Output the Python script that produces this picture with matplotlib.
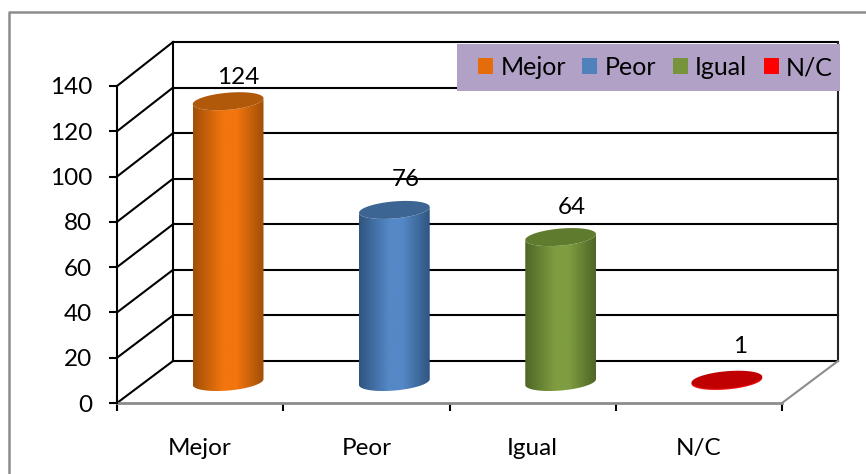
import numpy as np
import matplotlib
matplotlib.use("Agg")
import matplotlib.pyplot as plt
from matplotlib.patches import Polygon, Patch, Rectangle
from matplotlib.lines import Line2D
from matplotlib.colors import LinearSegmentedColormap

categories = ["Mejor", "Peor", "Igual", "N/C"]
values = [124, 76, 64, 1]
y_ticks = [0, 20, 40, 60, 80, 100, 120, 140]
center_colors = ["#F2750E", "#5488C6", "#7F9D40", "#F01010"]
edge_colors = ["#A04F08", "#2F5580", "#4F6627", "#A00000"]
top_colors = ["#B0590A", "#3D6594", "#5F7C2E", "#C00000"]
legend_colors = ["#E46C0A", "#4F81BD", "#77933C", "#FF0000"]
label_offsets_px = [(38, -45), (39, -51), (39, -51), (41, -54)]

W, H = 866, 474
L, R, B, T = 117, 782, 403, 86
DX, DY = 56, 42
BACK_SCALE = 319 / 317
plt.rcParams["font.family"] = ["Lato", "DejaVu Sans"]
FS = 17.5

fig = plt.figure(figsize=(W / 100, H / 100), dpi=100)
fig.patch.set_facecolor("white")
# outer frame: only its left and top edges are visible
fig.add_artist(Line2D([8.5 / W, 8.5 / W, 1], [0, 1 - 12 / H, 1 - 12 / H],
                      transform=fig.transFigure, color="#8C8C8C", lw=1.8))
ax = fig.add_axes([L / W, 1 - B / H, (R - L) / W, (B - T) / H])
ax.set_xlim(0, 4)
ax.set_ylim(0, 140)
ax.patch.set_alpha(0)
ux, uy = 4 / (R - L), 140 / (B - T)   # data units per pixel
ddx, ddy = DX * ux, DY * uy


def back(v):
    return ddy + v * BACK_SCALE


wall = dict(color="black", lw=1.5, clip_on=False, zorder=1)
for v in y_ticks:
    ax.plot([ddx, 4 + ddx], [back(v), back(v)], **wall)
    ax.plot([0, ddx], [v, back(v)], **wall)
ax.plot([ddx, ddx], [back(0), back(140)], **wall)
ax.plot([4 + ddx, 4 + ddx], [back(0), back(140)], color="#222222", lw=1.5, clip_on=False, zorder=1)
ax.plot([4, 4 + ddx], [0, back(0)], color="#8C8C8C", lw=1.5, clip_on=False, zorder=1)


def ellipse(cx, cy, t):
    a, b, rot = 35.5, 8.5, np.deg2rad(5)
    u, w = a * np.cos(t), b * np.sin(t)
    return cx + (u * np.cos(rot) - w * np.sin(rot)) * ux, cy + (u * np.sin(rot) + w * np.cos(rot)) * uy


for i, v in enumerate(values):
    cx = i + 0.5 + ddx / 2
    y0 = ddy / 2
    y1 = v + ddy / 2
    full = np.linspace(0, 2 * np.pi, 120)
    lower = np.linspace(np.pi, 2 * np.pi, 60)
    bx, by = ellipse(cx, y0, lower)
    tx, ty = ellipse(cx, y1, lower[::-1])
    poly = Polygon(np.c_[np.r_[bx, tx], np.r_[by, ty]], transform=ax.transData, fc="none", ec="none")
    ax.add_patch(poly)
    cmap = LinearSegmentedColormap.from_list(
        "c", [(0, edge_colors[i]), (0.42, center_colors[i]), (0.62, center_colors[i]), (1, edge_colors[i])])
    if v > 2:
        im = ax.imshow(np.linspace(0, 1, 128)[None, :], cmap=cmap, aspect="auto", zorder=3,
                       extent=[bx.min(), bx.max(), y0 - 10 * uy, y1 + 10 * uy])
        im.set_clip_path(poly)
    else:
        ax.add_patch(Polygon(np.c_[*ellipse(cx, y1 - 1.2 * uy, full)], fc=center_colors[i], ec="none",
                             zorder=3, clip_on=False))
    ex, ey = ellipse(cx, y1, full)
    ax.add_patch(Polygon(np.c_[ex, ey], fc=top_colors[i], ec="none", zorder=4, clip_on=False))
    ax.annotate(str(v), (i + 0.5, v), xytext=(label_offsets_px[i][0] * 0.72, -label_offsets_px[i][1] * 0.72),
                textcoords="offset points", ha="center", va="center", fontsize=FS, color="black",
                zorder=6, annotation_clip=False)
ax.set_xlim(0, 4)
ax.set_ylim(0, 140)

for s in ["top", "right"]:
    ax.spines[s].set_visible(False)
ax.spines["left"].set_linewidth(1.5)
ax.spines["bottom"].set_linewidth(2)
ax.spines["bottom"].set_color("#8C8C8C")
ax.spines["left"].set_zorder(5)
ax.set_yticks(y_ticks)
ax.tick_params(axis="y", length=6, width=1.5, pad=12, labelsize=FS)
ax.set_xticks(range(5))
ax.set_xticklabels([])
ax.tick_params(axis="x", which="major", length=6, width=1.5)
ax.set_xticks(np.arange(len(categories)) + 0.5, minor=True)
ax.set_xticklabels(categories, minor=True, fontsize=FS)
ax.tick_params(axis="x", which="minor", length=0, pad=25)

# legend background band, then the legend itself on top of it
fig.add_artist(Rectangle((457 / W, 1 - 91 / H), (840 - 457) / W, 47 / H, transform=fig.transFigure,
                         fc="#B2A1C7", ec="none", zorder=9))
handles = [Patch(fc=c, ec="none", label=n) for c, n in zip(legend_colors, categories)]
leg = fig.legend(handles=handles, loc="upper left", ncol=4, mode="expand", fontsize=18,
                 bbox_to_anchor=(478 / W, 1 - 90 / H, (833 - 478) / W, 34 / H), borderaxespad=0,
                 frameon=False, handlelength=0.6, handleheight=0.6, handletextpad=0.3,
                 columnspacing=0.4, borderpad=0, labelspacing=0)
leg.set_zorder(10)

fig.savefig("out.png", dpi=100)
